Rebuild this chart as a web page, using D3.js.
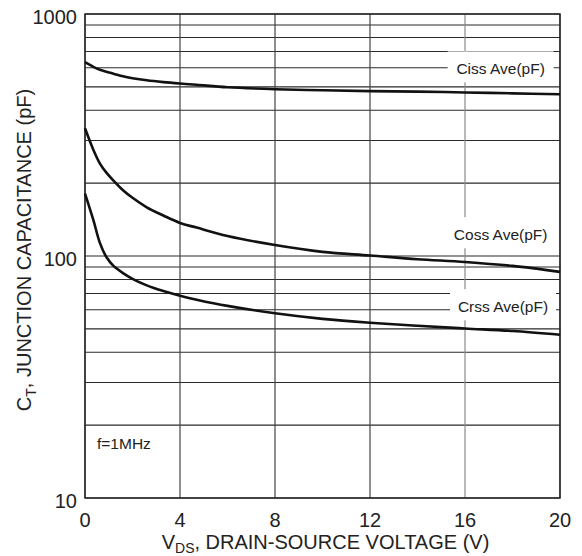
<!DOCTYPE html>
<html>
<head>
<meta charset="utf-8">
<script src="https://cdn.jsdelivr.net/npm/d3@7"></script>
<style>
    body { margin: 0; background: #fff; }
    svg { display: block; font-family: "Liberation Sans", Arial, sans-serif; }
</style>
</head>
<body>
<div id="chart"></div>
<script>
'use strict';

// Values (VDS in volts, capacitance in pF)
const vds  = [0, 0.35, 0.63, 0.9, 1.2, 1.6, 2, 2.6, 3.3, 4, 4.7, 6, 8, 10, 12, 14, 16, 18, 20];
const ciss = [632, 605, 588, 577, 567, 553, 543, 532, 523, 516, 510, 498, 489, 484, 480, 478, 474, 470, 466];
const coss = [337, 275, 241, 221, 205, 187, 174, 159, 147, 137, 131, 121, 111, 104, 100.5, 97, 94.5, 91, 86];
const crss = [181, 141, 113, 99, 91, 85, 80.5, 75.6, 71.6, 68.5, 66, 62.2, 58, 55, 53, 51.5, 50.2, 49, 47.3];

const seriesNames = ['Ciss Ave(pF)', 'Coss Ave(pF)', 'Crss Ave(pF)'];
const seriesValues = [ciss, coss, crss];
// where each curve's label sits (VDS, pF)
const labelV = [17.5, 17.5, 17.6];
const labelC = [596, 123, 62];

const xTicks = [0, 4, 8, 12, 16, 20];
const yLabels = [10, 100, 1000];

const width = 582, height = 556;
const margin = {top: 14, right: 22, bottom: 58, left: 85};

const svg = d3.select('#chart').append('svg')
    .attr('width', width)
    .attr('height', height);

const x = d3.scaleLinear()
    .domain([0, 20])
    .range([margin.left, width - margin.right]);

const y = d3.scaleLog()
    .domain([10, 1000])
    .range([height - margin.bottom, margin.top]);

// Grid: every 1-2-...-9 line of the log axis, and the VDS ticks
const grid = svg.append('g').classed('grid', true);

grid.selectAll('line.h')
    .data(y.ticks())
    .join('line')
    .classed('h', true)
    .attr('x1', x(0)).attr('x2', x(20))
    .attr('y1', d => y(d)).attr('y2', d => y(d))
    .attr('stroke', '#2a2a2a')
    .attr('stroke-width', 1.1);

grid.selectAll('line.v')
    .data(xTicks)
    .join('line')
    .classed('v', true)
    .attr('x1', d => x(d)).attr('x2', d => x(d))
    .attr('y1', y(10)).attr('y2', y(1000))
    .attr('stroke', d => d === 16 ? '#8a8a8a' : '#444')
    .attr('stroke-width', 1.2);

// Frame
svg.append('rect')
    .attr('x', x(0)).attr('y', y(1000))
    .attr('width', x(20) - x(0))
    .attr('height', y(10) - y(1000))
    .attr('fill', 'none')
    .attr('stroke', '#222')
    .attr('stroke-width', 1.4);

// Curves
const line = d3.line()
    .x((d, i) => x(vds[i]))
    .y(d => y(d))
    .curve(d3.curveCatmullRom.alpha(0.5));

svg.append('g').selectAll('path')
    .data(seriesValues)
    .join('path')
    .attr('d', line)
    .attr('fill', 'none')
    .attr('stroke', '#111')
    .attr('stroke-width', 2.6);

// Curve labels on a white patch that breaks the grid
const labels = svg.append('g').selectAll('g')
    .data(seriesNames)
    .join('g')
    .attr('transform', (d, i) => `translate(${x(labelV[i])},${y(labelC[i])})`);

labels.append('rect')
    .attr('x', -53).attr('y', -17)
    .attr('width', 106).attr('height', 31)
    .attr('fill', '#fff');

labels.append('text')
    .attr('text-anchor', 'middle')
    .attr('dy', '0.35em')
    .attr('font-size', 15.5)
    .attr('fill', '#222')
    .text(d => d);

// Tick labels
svg.append('g').selectAll('text')
    .data(xTicks)
    .join('text')
    .attr('x', d => x(d))
    .attr('y', y(10) + 29)
    .attr('text-anchor', 'middle')
    .attr('font-size', 20)
    .attr('fill', '#222')
    .text(d => d);

svg.append('g').selectAll('text')
    .data(yLabels)
    .join('text')
    .attr('x', x(0) - 8)
    .attr('y', d => y(d) + 3)
    .attr('dy', '0.35em')
    .attr('text-anchor', 'end')
    .attr('font-size', 20)
    .attr('fill', '#222')
    .text(d => d);

// Axis titles
const xTitle = svg.append('text')
    .attr('x', (x(0) + x(20)) / 2 + 3)
    .attr('y', height - 7)
    .attr('text-anchor', 'middle')
    .attr('font-size', 20)
    .attr('fill', '#222');
xTitle.append('tspan').text('V');
xTitle.append('tspan').attr('font-size', 14).attr('dy', 4).text('DS');
xTitle.append('tspan').attr('dy', -4).text(', DRAIN-SOURCE VOLTAGE (V)');

const yTitle = svg.append('text')
    .attr('transform', `translate(31,${(y(10) + y(1000)) / 2 - 6}) rotate(-90)`)
    .attr('text-anchor', 'middle')
    .attr('font-size', 20)
    .attr('fill', '#222');
yTitle.append('tspan').text('C');
yTitle.append('tspan').attr('font-size', 14).attr('dy', 5).text('T');
yTitle.append('tspan').attr('dy', -5).text(', JUNCTION CAPACITANCE (pF)');

// Test condition note
svg.append('text')
    .attr('x', x(0) + 12)
    .attr('y', y(16))
    .attr('font-size', 15.5)
    .attr('fill', '#222')
    .text('f=1MHz');
</script>
</body>
</html>
